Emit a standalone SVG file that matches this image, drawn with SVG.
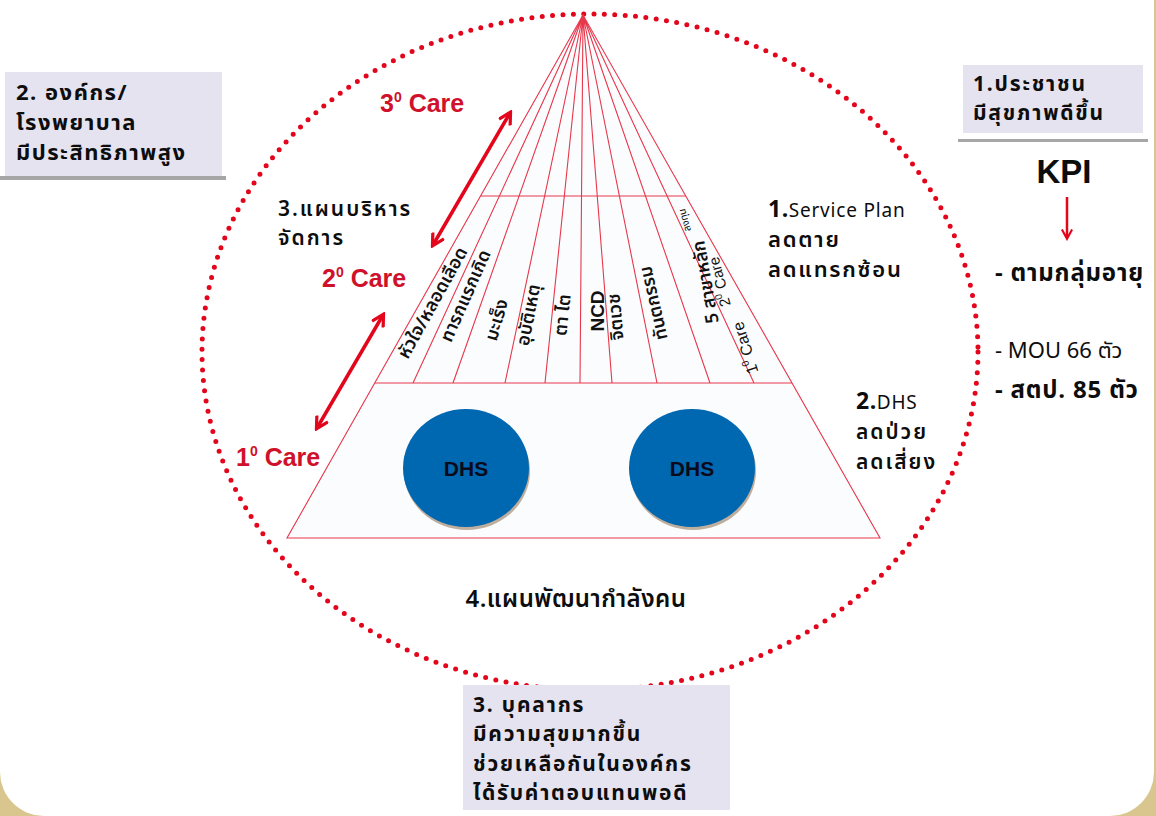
<svg xmlns="http://www.w3.org/2000/svg" width="1156" height="816" viewBox="0 0 1156 816">
<style>
.th{font-family:"Noto Sans Thai","Noto Sans","DejaVu Sans",sans-serif;fill:#0d0d0d}
.b{font-weight:bold}
.m{font-weight:600}
.care{font-family:"Liberation Sans",Arial,sans-serif;font-weight:bold;fill:#d0112b;font-size:25px}
.fan{font-family:"Noto Sans Thai","Noto Sans","DejaVu Sans",sans-serif;fill:#111;font-size:18px;font-weight:600}
.pl{stroke:#e8374b;stroke-width:1.1;fill:none}
.box{fill:#e5e3f0}
.shadow{fill:#a6a6a6}
.dhs{fill:#0067b1}
.dhst{font-family:"Liberation Sans",Arial,sans-serif;font-weight:bold;font-size:21px;fill:#0a0a1a}
.arr{stroke:#e3051b;stroke-width:3.5;fill:none}
</style>
<defs>
<marker id="ah" viewBox="0 0 14 14" refX="11" refY="7" markerWidth="15" markerHeight="15" markerUnits="userSpaceOnUse" orient="auto-start-reverse">
<path d="M1,1 L12,7 L1,13" fill="none" stroke="#e3051b" stroke-width="3"/>
</marker>
<marker id="ah2" viewBox="0 0 14 14" refX="11" refY="7" markerWidth="12" markerHeight="12" markerUnits="userSpaceOnUse" orient="auto">
<path d="M1,1 L12,7 L1,13" fill="none" stroke="#e3051b" stroke-width="2.5"/>
</marker>
</defs>

<g id="background">
<rect x="0" y="0" width="1156" height="816" fill="#d8c68e"/>
<rect x="0" y="-60" width="1154" height="876" rx="44" ry="44" fill="#ffffff"/>
</g>

<g id="boundary">
<ellipse cx="590" cy="352" rx="388" ry="338" fill="none" stroke="#e3051b" stroke-width="5" stroke-dasharray="0 10.4" stroke-linecap="round"/>
</g>

<g id="pyramid">
<polygon points="583,15 287,538 880,538" fill="#fbfcfe" stroke="none"/>
<polygon points="583,15 287,538 880,538" class="pl"/>
<line x1="481" y1="196" x2="686" y2="196" class="pl"/>
<line x1="375" y1="383" x2="792" y2="383" class="pl"/>
<path class="pl" d="M583,15 L413,383 M583,15 L453,383 M583,15 L505,383 M583,15 L545,383 M583,15 L580,383 M583,15 L612,383 M583,15 L657,383 M583,15 L710,383 M583,15 L754,383"/>
</g>

<g id="fan-labels">
<text class="fan" transform="translate(433,303) rotate(-61)" text-anchor="middle" dominant-baseline="central">หัวใจ/หลอดเลือด</text>
<text class="fan" transform="translate(466,296) rotate(-66)" text-anchor="middle" dominant-baseline="central">ทารกแรกเกิด</text>
<text class="fan" transform="translate(497,320) rotate(-74)" text-anchor="middle" dominant-baseline="central">มะเร็ง</text>
<text class="fan" transform="translate(529,315) rotate(-79)" text-anchor="middle" dominant-baseline="central">อุบัติเหตุ</text>
<text class="fan" transform="translate(563,315) rotate(-84)" text-anchor="middle" dominant-baseline="central">ตา ไต</text>
<text transform="translate(597,311) rotate(-90)" text-anchor="middle" dominant-baseline="central" style="font-family:'Liberation Sans',Arial,sans-serif;font-weight:bold;font-size:19px;fill:#111">NCD</text>
<text class="fan" transform="translate(616,317) rotate(-95)" text-anchor="middle" dominant-baseline="central">จิตเวช</text>
<text class="fan" transform="translate(654,303) rotate(-103)" text-anchor="middle" dominant-baseline="central">ทันตกรรม</text>
<text class="fan" transform="translate(706,282) rotate(-100)" text-anchor="middle" dominant-baseline="central">5 สาขาหลัก</text>
<text transform="translate(719,282) rotate(-105)" text-anchor="middle" dominant-baseline="central" style="font-family:'Liberation Sans',Arial,sans-serif;font-size:15px;fill:#111">2<tspan font-size="10" dy="-5">0</tspan><tspan dy="5"> Care</tspan></text>
<text class="th" transform="translate(685,220) rotate(-105)" text-anchor="middle" dominant-baseline="central" font-size="10">ลงทุน</text>
<text transform="translate(745,348) rotate(-108)" text-anchor="middle" dominant-baseline="central" style="font-family:'Liberation Sans',Arial,sans-serif;font-size:16px;fill:#111">1<tspan font-size="10" dy="-5">0</tspan><tspan dy="5"> Care</tspan></text>
</g>

<g id="dhs-1">
<ellipse cx="467" cy="471" rx="63" ry="59" fill="#8c6e4c" opacity="0.55"/>
<ellipse cx="466" cy="468" rx="63" ry="59" class="dhs"/>
<text x="466" y="476" text-anchor="middle" class="dhst">DHS</text>
</g>
<g id="dhs-2">
<ellipse cx="693" cy="471" rx="63" ry="59" fill="#8c6e4c" opacity="0.55"/>
<ellipse cx="692" cy="468" rx="63" ry="59" class="dhs"/>
<text x="692" y="476" text-anchor="middle" class="dhst">DHS</text>
</g>

<g id="connectors">
<line x1="433" y1="245" x2="510" y2="113" class="arr" marker-start="url(#ah)" marker-end="url(#ah)"/>
<line x1="317" y1="428" x2="383" y2="315" class="arr" marker-start="url(#ah)" marker-end="url(#ah)"/>
<line x1="1067" y1="197" x2="1067" y2="238" stroke="#e3051b" stroke-width="2.5" marker-end="url(#ah2)"/>
</g>

<g id="care-labels">
<text class="care" x="380" y="112">3<tspan font-size="14" dy="-10">0</tspan><tspan dy="10"> Care</tspan></text>
<text class="care" x="322" y="287">2<tspan font-size="14" dy="-10">0</tspan><tspan dy="10"> Care</tspan></text>
<text class="care" x="236" y="466">1<tspan font-size="14" dy="-10">0</tspan><tspan dy="10"> Care</tspan></text>
</g>

<g id="plan-admin">
<text class="th m" font-size="21" letter-spacing="2"><tspan x="278" y="216">3.แผนบริหาร</tspan><tspan x="278" y="245">จัดการ</tspan></text>
</g>

<g id="service-plan">
<text class="th m" font-size="22" letter-spacing="1.8"><tspan x="768" y="217"><tspan class="b" font-size="23" letter-spacing="0.5">1.</tspan><tspan font-size="19" font-weight="normal" letter-spacing="0.8">Service Plan</tspan></tspan><tspan x="768" y="247">ลดตาย</tspan><tspan x="768" y="277">ลดแทรกซ้อน</tspan></text>
</g>

<g id="dhs-goal">
<text class="th m" font-size="21" letter-spacing="2"><tspan x="856" y="409"><tspan class="b" font-size="23" letter-spacing="0.5">2.</tspan><tspan font-size="19" font-weight="normal" letter-spacing="0.8">DHS</tspan></tspan><tspan x="856" y="439">ลดป่วย</tspan><tspan x="856" y="469">ลดเสี่ยง</tspan></text>
</g>

<g id="hr-plan">
<text class="th m" x="576" y="607" font-size="24" letter-spacing="0.5" text-anchor="middle">4.แผนพัฒนากำลังคน</text>
</g>

<g id="box-org">
<rect x="0" y="176" width="226" height="4" class="shadow"/>
<rect x="5" y="72" width="217" height="104" class="box"/>
<text class="th b" font-size="22" letter-spacing="1.5"><tspan x="16" y="100">2. องค์กร/</tspan><tspan x="16" y="130">โรงพยาบาล</tspan><tspan x="16" y="160">มีประสิทธิภาพสูง</tspan></text>
</g>

<g id="box-people">
<rect x="958" y="139" width="190" height="3" class="shadow"/>
<rect x="963" y="65" width="180" height="68" class="box"/>
<text class="th b" font-size="21" letter-spacing="1.8"><tspan x="973" y="91">1.ประชาชน</tspan><tspan x="973" y="120">มีสุขภาพดีขึ้น</tspan></text>
</g>

<g id="kpi">
<text x="1064" y="183" text-anchor="middle" style="font-family:'Liberation Sans',Arial,sans-serif;font-weight:bold;font-size:33px;fill:#0d0d0d">KPI</text>
<text class="th b" x="995" y="281" font-size="24" letter-spacing="0.8">- ตามกลุ่มอายุ</text>
<text class="th" x="995" y="358" font-size="22">- MOU 66 ตัว</text>
<text class="th b" x="995" y="398" font-size="24" letter-spacing="0.8">- สตป. 85 ตัว</text>
</g>

<g id="box-staff">
<rect x="463" y="685" width="267" height="125" class="box"/>
<text class="th b" font-size="21" letter-spacing="1.8"><tspan x="473" y="712">3. บุคลากร</tspan><tspan x="473" y="741">มีความสุขมากขึ้น</tspan><tspan x="473" y="771">ช่วยเหลือกันในองค์กร</tspan><tspan x="473" y="800">ได้รับค่าตอบแทนพอดี</tspan></text>
</g>
</svg>
